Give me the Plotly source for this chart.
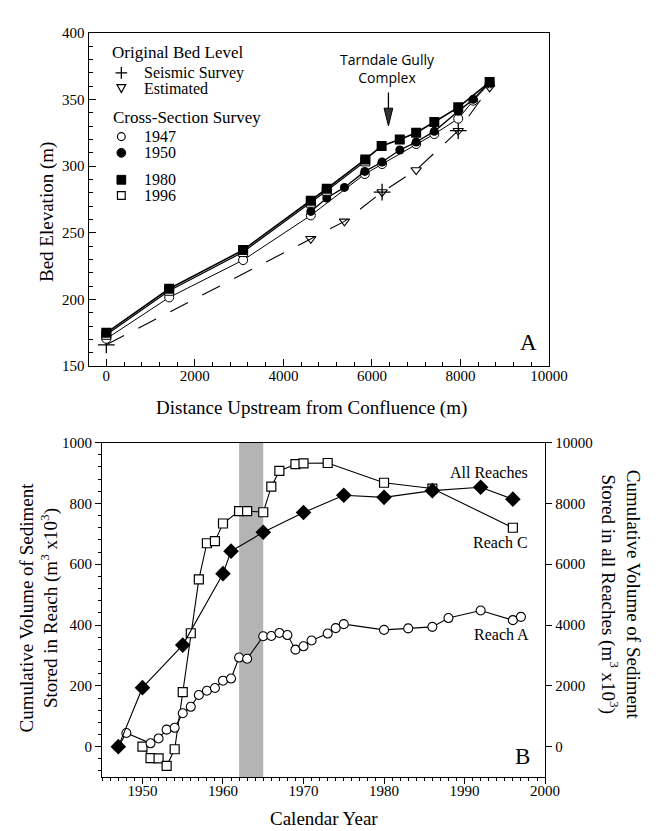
import plotly.graph_objects as go

W, H = 660, 831

# ---------------- Panel A data ----------------
dist_1980 = [0, 1420, 3090, 4620, 4980, 5850, 6220, 6630, 7000, 7410, 7950, 8660]
elev_1980 = [175, 208, 237, 274, 283, 305, 315, 320, 325, 333, 344, 363]

dist_1996 = [0, 1420, 3090, 4620, 4980, 5850]
elev_1996 = [173.5, 206.5, 235.5, 272.5, 281.5, 303.5]

dist_1950 = [4620, 4980, 5380, 5840, 6230, 6630, 7000, 7410, 7950, 8290, 8660]
elev_1950 = [266, 276, 284, 296, 303, 312, 318, 326, 341, 350, 363]

dist_1947 = [0, 1420, 3090, 4620, 5840, 6230, 7000, 7410, 7950, 8290, 8660]
elev_1947 = [170.5, 201.5, 229.5, 263, 294, 301.5, 316.5, 324, 335.5, 349, 362]

dist_seismic = [0, 6230, 7950]
elev_seismic = [166, 280.5, 326.5]

dist_estimated = [4620, 5380, 6230, 7000, 7950, 8660]
elev_estimated = [245.5, 258.5, 280.5, 297, 326.5, 359]

dist_original = [0, 4620, 5380, 6230, 7000, 7950, 8660]
elev_original = [166, 245.5, 258.5, 280.5, 297, 326.5, 359]

# ---------------- Panel B data ----------------
years_C = [1947, 1950, 1955, 1960, 1961, 1965, 1970, 1975, 1980, 1986, 1992, 1996]
vol_C = [0, 194, 334, 569, 643, 705, 770, 827, 820, 842, 853, 814]

years_A = [1947, 1948, 1951, 1952, 1953, 1954, 1955, 1956, 1957, 1958, 1959, 1960,
           1961, 1962, 1963, 1965, 1966, 1967, 1968, 1969, 1970, 1971, 1973, 1974,
           1975, 1980, 1983, 1986, 1988, 1992, 1996, 1997]
vol_A = [0, 45, 11, 27, 56, 62, 110, 131, 170, 184, 193, 217,
         224, 293, 289, 363, 364, 374, 367, 319, 330, 349, 372, 390,
         403, 384, 389, 394, 423, 448, 416, 427]

years_all = [1950, 1951, 1952, 1953, 1954, 1955, 1956, 1957, 1958, 1959, 1960,
             1962, 1963, 1965, 1966, 1967, 1969, 1970, 1973, 1980, 1986, 1996]
vol_all = [0, -376, -387, -634, -86, 1796, 3730, 5500, 6690, 6760, 7340,
           7750, 7750, 7710, 8550, 9070, 9290, 9320, 9330, 8680, 8490, 7200]

shade_years = [1962, 1965]

SERIF = "'Liberation Serif', 'DejaVu Serif', serif"
SANS = "'Open Sans', 'Liberation Sans', sans-serif"


def px(x):
    return x / W


def py(y):
    return 1 - y / H


fig = go.Figure()

# ---- Panel A traces ----
fig.add_trace(go.Scatter(x=dist_original, y=elev_original, mode="lines",
                         line=dict(color="black", width=1.1, dash="20px,16px"),
                         xaxis="x", yaxis="y", showlegend=False))
fig.add_trace(go.Scatter(x=dist_estimated, y=elev_estimated, mode="markers",
                         marker=dict(symbol="triangle-down-open", size=9,
                                     color="black", line=dict(width=1.1)),
                         xaxis="x", yaxis="y", showlegend=False))
fig.add_trace(go.Scatter(x=dist_seismic, y=elev_seismic, mode="markers",
                         marker=dict(symbol="cross-thin", size=12,
                                     line=dict(width=1.3, color="black")),
                         xaxis="x", yaxis="y", showlegend=False))
fig.add_trace(go.Scatter(x=dist_1947, y=elev_1947, mode="lines+markers",
                         line=dict(color="black", width=1),
                         marker=dict(symbol="circle", size=9, color="white",
                                     line=dict(color="black", width=1)),
                         xaxis="x", yaxis="y", showlegend=False))
fig.add_trace(go.Scatter(x=dist_1950, y=elev_1950, mode="lines+markers",
                         line=dict(color="black", width=1.3),
                         marker=dict(symbol="circle", size=9, color="black"),
                         xaxis="x", yaxis="y", showlegend=False))
fig.add_trace(go.Scatter(x=dist_1996, y=elev_1996, mode="lines+markers",
                         line=dict(color="black", width=1.2),
                         marker=dict(symbol="square", size=9, color="white",
                                     line=dict(color="black", width=1)),
                         xaxis="x", yaxis="y", showlegend=False))
fig.add_trace(go.Scatter(x=dist_1980, y=elev_1980, mode="lines+markers",
                         line=dict(color="black", width=1.6),
                         marker=dict(symbol="square", size=10, color="black"),
                         xaxis="x", yaxis="y", showlegend=False))

# ---- Panel B traces ----
fig.add_trace(go.Scatter(x=years_all, y=vol_all, mode="lines+markers",
                         line=dict(color="black", width=1.1),
                         marker=dict(symbol="square", size=9, color="white",
                                     line=dict(color="black", width=1.2)),
                         xaxis="x2", yaxis="y2", showlegend=False))
fig.add_trace(go.Scatter(x=years_A, y=vol_A, mode="lines+markers",
                         line=dict(color="black", width=1.1),
                         marker=dict(symbol="circle", size=9, color="white",
                                     line=dict(color="black", width=1.1)),
                         xaxis="x2", yaxis="y3", showlegend=False))
fig.add_trace(go.Scatter(x=years_C, y=vol_C, mode="lines+markers",
                         line=dict(color="black", width=1.1),
                         marker=dict(symbol="diamond", size=12, color="black"),
                         xaxis="x2", yaxis="y3", showlegend=False))

tickfont = dict(family=SERIF, size=15, color="black")
axis_common = dict(showgrid=False, zeroline=False, showline=True,
                   linecolor="black", linewidth=1.2, tickcolor="black",
                   tickfont=tickfont, exponentformat="none",
                   separatethousands=False, tickformat="d")

fig.update_layout(
    width=W, height=H,
    margin=dict(l=0, r=0, t=0, b=0),
    paper_bgcolor="white", plot_bgcolor="white",
    font=dict(family=SERIF, color="black"),
    xaxis=dict(domain=[px(83), px(557)], range=[-400, 10000], anchor="y",
               tickmode="linear", tick0=0, dtick=2000, ticks="inside",
               ticklen=7, mirror=True, ticklabelstandoff=-4,
               minor=dict(dtick=400, tick0=0, ticks="inside", ticklen=4,
                          tickcolor="black"),
               **axis_common),
    yaxis=dict(domain=[py(357), py(17)], range=[150, 400], anchor="x",
               tickmode="linear", tick0=150, dtick=50, ticks="inside",
               ticklen=7, mirror=True,
               minor=dict(dtick=10, tick0=150, ticks="inside", ticklen=4,
                          tickcolor="black"),
               **axis_common),
    xaxis2=dict(domain=[px(97), px(553)], range=[1945, 2000], anchor="y2",
                tickmode="linear", tick0=1950, dtick=10, ticks="outside",
                ticklen=6, mirror=True, ticklabelstandoff=-6,
                minor=dict(dtick=1, tick0=1945, ticks="outside", ticklen=3,
                           tickcolor="black"),
                **axis_common),
    yaxis2=dict(domain=[py(776), py(435)], range=[-1000, 10000], anchor="x2",
                side="right", tickmode="linear", tick0=0, dtick=2000,
                ticks="outside", ticklen=6, **axis_common),
    yaxis3=dict(range=[-100, 1000], anchor="x2", overlaying="y2", side="left",
                tickmode="linear", tick0=0, dtick=200, ticks="outside",
                ticklen=6,
                minor=dict(dtick=40, tick0=0, ticks="outside", ticklen=3,
                           tickcolor="black"),
                **axis_common),
)

# shaded period
fig.add_shape(type="rect", xref="x2", yref="y2 domain",
              x0=shade_years[0], x1=shade_years[1], y0=0, y1=1,
              fillcolor="#b4b4b4", line=dict(width=0), layer="below")

ann = []


def text(x, y, s, size=15, family=SERIF, xanchor="center", angle=0):
    ann.append(dict(x=px(x), y=py(y), xref="paper", yref="paper", text=s,
                    showarrow=False, xanchor=xanchor, yanchor="middle",
                    textangle=angle, font=dict(family=family, size=size,
                                               color="black")))


# axis titles
text(40, 200, "Bed Elevation (m)", size=19, angle=-90)
text(313, 400, "Distance Upstream from Confluence (m)", size=19)
text(325, 818, "Calendar Year", size=19)
text(32, 603, "Cumulative Volume of Sediment<br>Stored in Reach (m<sup>3</sup> x10<sup>3</sup>)",
     size=19, angle=-90)
text(630, 590, "Cumulative Volume of Sediment<br>Stored in all Reaches (m<sup>3</sup> x10<sup>3</sup>)",
     size=19, angle=90)

# panel letters
text(536, 333, "A", size=23)
text(530, 755, "B", size=23)

# series labels panel B
text(495, 465, "All Reaches", size=16)
text(507, 537, "Reach C", size=16)
text(508, 631, "Reach A", size=16)

# legend texts panel A
text(105, 37, "Original Bed Level", size=17, xanchor="left")
text(138, 58, "Seismic Survey", size=16, xanchor="left")
text(138, 74, "Estimated", size=16, xanchor="left")
text(106, 104, "Cross-Section Survey", size=17, xanchor="left")
text(138, 123, "1947", size=16, xanchor="left")
text(138, 139, "1950", size=16, xanchor="left")
text(138, 167, "1980", size=16, xanchor="left")
text(138, 183, "1996", size=16, xanchor="left")

# Tarndale annotation
text(391, 54, "Tarndale Gully<br>Complex", size=14, family=SANS)

fig.update_layout(annotations=ann)

sx = 116.7


def pshape(**kw):
    kw.setdefault("xref", "paper")
    kw.setdefault("yref", "paper")
    fig.add_shape(**kw)


# legend symbols
pshape(type="line", x0=px(sx - 6), x1=px(sx + 6), y0=py(58), y1=py(58),
       line=dict(color="black", width=1.3))
pshape(type="line", x0=px(sx), x1=px(sx), y0=py(52), y1=py(64),
       line=dict(color="black", width=1.3))
pshape(type="path",
       path=f"M {px(sx-4.5)},{py(70)} L {px(sx+4.5)},{py(70)} L {px(sx)},{py(78)} Z",
       line=dict(color="black", width=1.2), fillcolor="white")
pshape(type="circle", x0=px(sx - 4), x1=px(sx + 4), y0=py(119), y1=py(127),
       line=dict(color="black", width=1.2), fillcolor="white")
pshape(type="circle", x0=px(sx - 4.5), x1=px(sx + 4.5), y0=py(135), y1=py(144),
       line=dict(color="black", width=1), fillcolor="black")
pshape(type="rect", x0=px(sx - 4.5), x1=px(sx + 4.5), y0=py(162.5), y1=py(171.5),
       line=dict(color="black", width=1), fillcolor="black")
pshape(type="rect", x0=px(sx - 4), x1=px(sx + 4), y0=py(179), y1=py(187),
       line=dict(color="black", width=1.2), fillcolor="white")

# Tarndale arrow
ax_x = 391.7
pshape(type="line", x0=px(ax_x), x1=px(ax_x), y0=py(78), y1=py(100),
       line=dict(color="black", width=1.3))
pshape(type="path",
       path=f"M {px(ax_x-4.5)},{py(94)} L {px(ax_x+4.5)},{py(94)} L {px(ax_x)},{py(112)} Z",
       line=dict(color="black", width=1), fillcolor="#333333")

fig.write_html("out.html")
